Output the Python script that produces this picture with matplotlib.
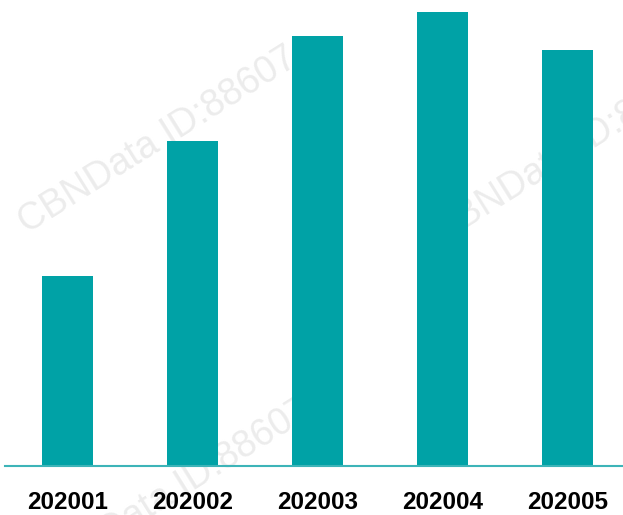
import matplotlib.pyplot as plt

# monthly values (arbitrary units)
months = ['202001', '202002', '202003', '202004', '202005']
values = [190, 325, 430, 454, 416]

bar_color = '#00A2A6'

fig = plt.figure(figsize=(6.23, 5.15), dpi=100)

# background layer for the faint watermark, clipped to the figure
bg = fig.add_axes([0, 0, 1, 1], zorder=0)
bg.set_xlim(0, 623)
bg.set_ylim(515, 0)
bg.axis('off')
wm = dict(color='#ececec', fontsize=27, rotation=32, ha='center',
          va='center', family='Liberation Sans', clip_on=True)
bg.text(158, 140, 'CBNData ID:88607', **wm)
bg.text(572, 150, 'CBNData ID:88607', **wm)
bg.text(172, 492, 'CBNData ID:88607', **wm)

ax = fig.add_axes([5 / 623, 49 / 515, 618 / 623, 466 / 515], zorder=1)
ax.patch.set_alpha(0)

x = range(len(months))
ax.bar(x, values, width=0.41, color=bar_color, zorder=2)

ax.set_xlim(-0.5, 4.444)
ax.set_ylim(0, 466)

for side in ['top', 'right', 'left']:
    ax.spines[side].set_visible(False)
ax.spines['bottom'].set_color('#3DB4B8')
ax.spines['bottom'].set_linewidth(1.5)
ax.set_yticks([])
ax.set_xticks(list(x))
ax.set_xticklabels(months, fontsize=17.5, fontweight='bold',
                   family='Liberation Sans')
ax.tick_params(axis='x', length=0, pad=18)

fig.savefig('out.png', dpi=100)
